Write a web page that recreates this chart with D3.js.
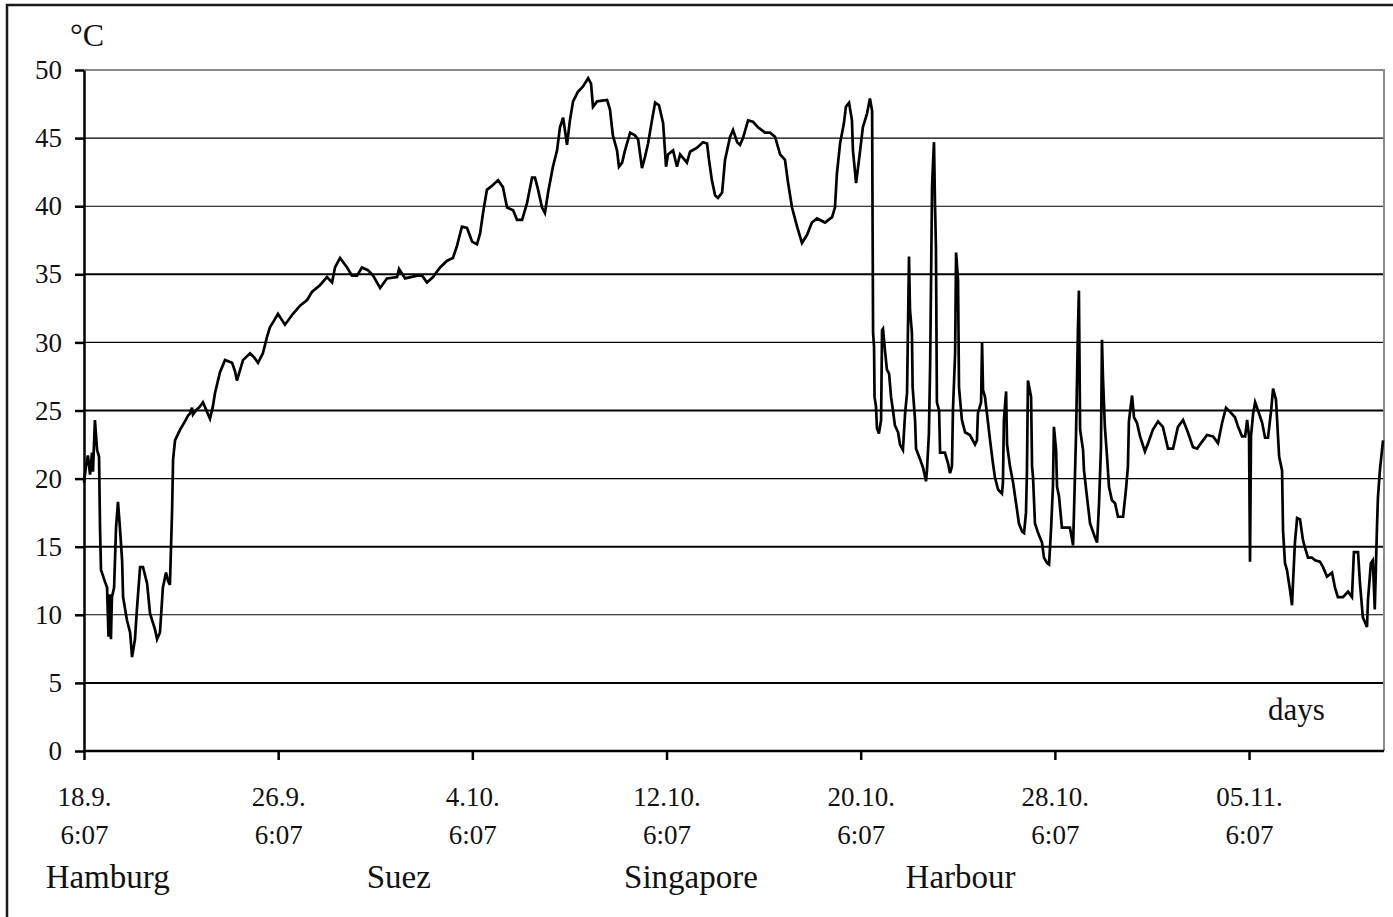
<!DOCTYPE html>
<html>
<head>
<meta charset="utf-8">
<script src="https://cdn.jsdelivr.net/npm/d3@7"></script>
<style>
  html, body { margin: 0; padding: 0; background: #fff; }
  svg { display: block; }
  text { font-family: "Liberation Serif", "Times New Roman", serif; fill: #111; }
</style>
</head>
<body>
<svg id="chart" width="1393" height="917"></svg>
<script>
// Time in days since 18.9. 6:07, temperature in °C
const days = [
  0.00, 0.08, 0.16, 0.25, 0.33, 0.37, 0.45, 0.54, 0.62, 0.66, 0.70, 0.87, 0.95, 1.01, 1.07, 1.11, 1.15,
  1.24, 1.32, 1.40, 1.48, 1.57, 1.61, 1.77, 1.90, 1.98, 2.10, 2.18, 2.31, 2.43, 2.60, 2.72, 2.93, 3.01,
  3.13, 3.25, 3.38, 3.46, 3.54, 3.63, 3.67, 3.75, 3.96, 4.16, 4.28, 4.37, 4.45, 4.49, 4.61, 4.78, 4.90,
  5.07, 5.19, 5.31, 5.40, 5.60, 5.81, 6.10, 6.22, 6.30, 6.55, 6.84, 7.01, 7.17, 7.37, 7.54, 7.66, 7.83,
  7.99, 8.28, 8.61, 8.90, 9.19, 9.39, 9.72, 10.01, 10.22, 10.34, 10.55, 10.84, 11.04, 11.25, 11.45, 11.70,
  11.91, 12.20, 12.48, 12.90, 12.98, 13.23, 13.72, 13.93, 14.13, 14.38, 14.67, 14.96, 15.20, 15.37, 15.57,
  15.78, 15.99, 16.19, 16.32, 16.44, 16.60, 16.81, 17.06, 17.26, 17.43, 17.68, 17.84, 18.05, 18.25, 18.46,
  18.58, 18.71, 18.87, 18.99, 19.12, 19.32, 19.49, 19.61, 19.74, 19.90, 20.02, 20.15, 20.35, 20.56, 20.77,
  20.89, 20.97, 21.14, 21.55, 21.67, 21.79, 21.96, 22.04, 22.17, 22.29, 22.50, 22.70, 22.83, 22.99, 23.11,
  23.24, 23.40, 23.53, 23.69, 23.86, 23.98, 24.06, 24.27, 24.43, 24.56, 24.84, 24.97, 25.26, 25.50, 25.67,
  25.75, 25.87, 26.00, 26.12, 26.29, 26.41, 26.62, 26.74, 26.91, 27.03, 27.15, 27.36, 27.56, 27.77, 28.06,
  28.26, 28.47, 28.68, 28.88, 29.01, 29.17, 29.38, 29.58, 29.79, 29.99, 30.20, 30.53, 30.82, 30.94, 31.02,
  31.15, 31.31, 31.39, 31.52, 31.64, 31.68, 31.81, 31.93, 32.09, 32.26, 32.38, 32.47, 32.51, 32.55, 32.57,
  32.63, 32.67, 32.75, 32.84, 32.88, 32.92, 33.00, 33.08, 33.17, 33.25, 33.33, 33.41, 33.54, 33.62, 33.74,
  33.83, 33.91, 33.99, 34.03, 34.11, 34.14, 34.24, 34.28, 34.45, 34.57, 34.69, 34.73, 34.81, 34.86, 34.94,
  34.98, 35.02, 35.06, 35.10, 35.14, 35.23, 35.27, 35.47, 35.60, 35.68, 35.76, 35.80, 35.89, 35.93, 36.01,
  36.05, 36.17, 36.30, 36.50, 36.71, 36.79, 36.83, 36.96, 37.00, 37.04, 37.12, 37.20, 37.33, 37.45, 37.53,
  37.66, 37.82, 37.86, 37.90, 37.99, 38.03, 38.15, 38.28, 38.44, 38.52, 38.65, 38.73, 38.81, 38.85, 38.89,
  39.02, 39.06, 39.10, 39.18, 39.31, 39.47, 39.55, 39.68, 39.76, 39.84, 39.92, 39.96, 40.05, 40.09, 40.17,
  40.29, 40.50, 40.62, 40.75, 40.79, 40.87, 40.91, 40.95, 40.99, 41.04, 41.16, 41.20, 41.32, 41.45, 41.65,
  41.74, 41.82, 41.90, 41.94, 41.98, 42.06, 42.15, 42.23, 42.35, 42.48, 42.60, 42.81, 42.93, 43.01, 43.05,
  43.18, 43.26, 43.38, 43.51, 43.71, 43.84, 44.04, 44.25, 44.45, 44.66, 44.87, 45.07, 45.28, 45.48, 45.69,
  45.86, 46.06, 46.27, 46.52, 46.72, 46.89, 47.05, 47.22, 47.42, 47.55, 47.71, 47.84, 47.92, 48.00, 48.04,
  48.08, 48.17, 48.25, 48.37, 48.54, 48.66, 48.78, 48.91, 48.99, 49.11, 49.15, 49.24, 49.36, 49.40, 49.48,
  49.56, 49.69, 49.77, 49.81, 49.89, 49.98, 50.10, 50.22, 50.31, 50.43, 50.59, 50.72, 50.92, 51.05, 51.21,
  51.42, 51.54, 51.66, 51.87, 52.08, 52.24, 52.32, 52.49, 52.57, 52.69, 52.86, 52.90, 53.02, 53.10, 53.18,
  53.27, 53.31, 53.39, 53.52
];
const temps = [
  19.7, 20.9, 21.7, 20.3, 21.9, 20.5, 24.3, 22.1, 21.6, 16.4, 13.3, 12.4, 12.0, 8.4, 11.5, 8.2, 11.3,
  12.0, 16.4, 18.3, 16.4, 14.0, 11.3, 9.6, 8.7, 6.9, 8.2, 10.4, 13.5, 13.5, 12.3, 10.1, 8.9, 8.2,
  8.7, 12.0, 13.1, 12.5, 12.2, 17.7, 21.4, 22.8, 23.6, 24.2, 24.6, 24.8, 25.2, 24.7, 25.0, 25.3, 25.6,
  24.9, 24.4, 25.3, 26.3, 27.8, 28.7, 28.5, 27.9, 27.2, 28.7, 29.2, 28.9, 28.5, 29.2, 30.4, 31.1, 31.6,
  32.1, 31.3, 32.1, 32.7, 33.1, 33.7, 34.2, 34.8, 34.4, 35.5, 36.2, 35.5, 34.9, 34.9, 35.5, 35.3,
  34.9, 34.0, 34.7, 34.8, 35.4, 34.7, 34.9, 34.9, 34.4, 34.8, 35.5, 36.0, 36.2, 37.1, 38.5,
  38.4, 37.4, 37.2, 38.0, 39.5, 41.2, 41.5, 41.9, 41.4, 39.9, 39.7, 39.0, 39.0, 40.2, 42.1,
  42.1, 41.2, 39.9, 39.5, 41.0, 42.9, 44.1, 45.8, 46.5, 44.5, 46.3, 47.7, 48.4, 48.8, 49.4,
  49.0, 47.3, 47.7, 47.8, 47.1, 45.2, 44.1, 42.9, 43.2, 44.1, 45.4, 45.2, 44.9, 42.8, 43.6,
  44.6, 46.3, 47.6, 47.4, 46.1, 42.9, 43.8, 44.1, 42.9, 43.8, 43.2, 44.0, 44.3, 44.7, 44.6,
  43.4, 41.9, 40.8, 40.6, 41.0, 43.4, 45.1, 45.6, 44.7, 44.5, 45.0, 46.3, 46.2, 45.8, 45.4,
  45.4, 45.1, 43.8, 43.4, 41.7, 39.9, 38.5, 37.3, 37.9, 38.8, 39.1, 38.8, 39.2, 39.9, 42.4,
  44.6, 46.1, 47.3, 47.6, 46.3, 44.1, 41.7, 43.4, 45.8, 46.8, 47.9, 47.0, 30.7, 29.7, 26.0,
  25.3, 23.7, 23.3, 24.3, 30.9, 31.0, 29.4, 28.0, 27.7, 26.0, 25.0, 23.9, 23.4, 22.5, 22.1,
  24.8, 26.3, 36.3, 32.4, 30.7, 26.7, 24.3, 22.2, 21.4, 20.8, 19.8, 20.6, 23.3, 28.2, 41.4,
  43.2, 44.7, 40.2, 37.0, 25.6, 25.0, 21.9, 21.9, 21.1, 20.4, 20.9, 25.0, 29.2, 36.6, 34.6,
  26.7, 24.3, 23.4, 23.2, 22.5, 22.8, 24.8, 25.6, 30.0, 26.5, 26.0, 24.8, 22.8, 21.1, 20.1,
  19.2, 18.9, 19.7, 24.3, 26.4, 22.5, 20.9, 19.7, 17.7, 16.7, 16.1, 16.0, 17.5, 20.6, 27.2,
  26.0, 20.9, 20.1, 16.7, 16.0, 15.3, 14.2, 13.8, 13.7, 16.2, 19.4, 23.8, 22.1, 19.4, 18.7,
  16.4, 16.4, 16.4, 15.1, 17.7, 23.1, 27.0, 30.9, 33.8, 23.6, 22.1, 20.6, 18.7, 16.7, 15.7,
  15.3, 18.2, 22.3, 30.2, 27.5, 23.8, 21.6, 19.4, 18.4, 18.2, 17.2, 17.2, 19.2, 20.9, 24.2,
  26.1, 24.5, 24.1, 23.1, 22.0, 22.6, 23.6, 24.2, 23.8, 22.2, 22.2, 23.8, 24.3, 23.4, 22.3,
  22.2, 22.7, 23.2, 23.1, 22.6, 24.1, 25.2, 24.9, 24.5, 23.8, 23.1, 23.1, 24.3, 23.1, 13.9,
  23.1, 24.8, 25.6, 25.0, 24.1, 23.0, 23.0, 25.0, 26.6, 25.8, 24.5, 21.6, 20.6, 16.2, 13.8,
  13.3, 11.8, 10.7, 12.3, 15.3, 17.1, 17.0, 15.5, 14.9, 14.2, 14.2, 14.0, 13.9, 13.5, 12.8,
  13.1, 12.0, 11.3, 11.3, 11.7, 11.3, 14.6, 14.6, 12.3, 9.8, 9.1, 11.1, 13.8, 14.0, 10.4,
  16.4, 18.6, 20.6, 22.8
];

const yTicks = [0, 5, 10, 15, 20, 25, 30, 35, 40, 45, 50];
const heavyGrid = [5, 15, 25, 35];
const xTickDays = [0, 8, 16, 24, 32, 40, 48];
const xTickDates = ["18.9.", "26.9.", "4.10.", "12.10.", "20.10.", "28.10.", "05.11."];
const xTickTime = "6:07";
const places = [
  { name: "Hamburg", day: -1.58 },
  { name: "Suez", day: 11.65 },
  { name: "Singapore", day: 22.25 },
  { name: "Harbour", day: 33.85 }
];
const dayMax = 53.56;

const svg = d3.select("#chart");
const plot = { left: 84, top: 70, right: 1384, bottom: 751 };

const x = d3.scaleLinear().domain([0, dayMax]).range([plot.left, plot.right]);
const y = d3.scaleLinear().domain([0, 50]).range([plot.bottom, plot.top]);

// outer frame
svg.append("rect")
  .attr("x", 7).attr("y", 5).attr("width", 1400).attr("height", 930)
  .attr("fill", "none").attr("stroke", "#1a1a1a").attr("stroke-width", 2.5);

// horizontal grid
svg.append("g").selectAll("line")
  .data(yTicks.filter(v => v > 0 && v < 50))
  .join("line")
  .attr("x1", plot.left).attr("x2", plot.right)
  .attr("y1", d => y(d)).attr("y2", d => y(d))
  .attr("stroke", "#000")
  .attr("stroke-width", d => heavyGrid.includes(d) ? 2 : 1.1);

// top and right border of the plot area
svg.append("path")
  .attr("d", `M${plot.left},${y(50)}H${plot.right}V${plot.bottom}`)
  .attr("fill", "none").attr("stroke", "#8a8a8a").attr("stroke-width", 2);

// temperature curve
const line = d3.line()
  .x((d, i) => x(days[i]))
  .y(d => y(d));
svg.append("path")
  .attr("d", line(temps))
  .attr("fill", "none")
  .attr("stroke", "#000")
  .attr("stroke-width", 2.7)
  .attr("stroke-linejoin", "miter");

// y axis
const yAxis = svg.append("g")
  .attr("transform", `translate(${plot.left},0)`)
  .call(d3.axisLeft(y).tickValues(yTicks).tickSize(9).tickPadding(13).tickSizeOuter(0));
yAxis.select(".domain").attr("stroke", "#000").attr("stroke-width", 2.5);
yAxis.selectAll(".tick line").attr("stroke", "#000").attr("stroke-width", 2.5);
yAxis.selectAll(".tick text")
  .attr("font-family", "Liberation Serif, serif")
  .attr("font-size", 27).attr("fill", "#111");

// x axis
const xAxis = svg.append("g")
  .attr("transform", `translate(0,${plot.bottom})`)
  .call(d3.axisBottom(x).tickValues(xTickDays).tickSize(9).tickSizeOuter(0).tickFormat(""));
xAxis.select(".domain").attr("stroke", "#000").attr("stroke-width", 2.5)
  .attr("d", `M${plot.left},0H${plot.right}`);
xAxis.selectAll(".tick line").attr("stroke", "#000").attr("stroke-width", 2.5);
xAxis.selectAll(".tick").each(function(d, i) {
  const t = d3.select(this).append("text")
    .attr("text-anchor", "middle")
    .attr("font-family", "Liberation Serif, serif")
    .attr("font-size", 27).attr("fill", "#111");
  t.append("tspan").attr("x", 0).attr("y", 55).text(xTickDates[i]);
  t.append("tspan").attr("x", 0).attr("y", 93).text(xTickTime);
});

// port names
svg.append("g").selectAll("text")
  .data(places)
  .join("text")
  .attr("x", d => x(d.day))
  .attr("y", 888)
  .attr("font-size", 33)
  .text(d => d.name);

// unit labels
svg.append("text").attr("x", 70).attr("y", 46).attr("font-size", 32).text("°C");
svg.append("text").attr("x", 1268).attr("y", 720).attr("font-size", 31).text("days");
</script>
</body>
</html>
